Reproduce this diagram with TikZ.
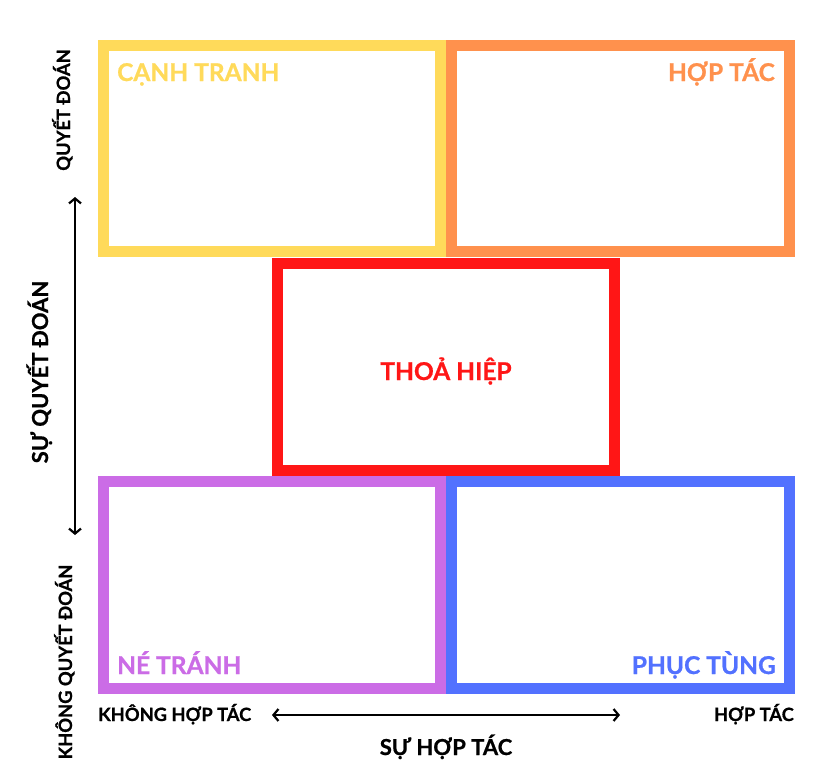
\documentclass[tikz,border=0pt]{standalone}
\usepackage{fontspec}
\setmainfont{Lato}[BoldFeatures={FakeBold=0.8}]
\usetikzlibrary{arrows.meta}
\definecolor{cyellow}{HTML}{FFDA5A}
\definecolor{corange}{HTML}{FF914D}
\definecolor{cred}{HTML}{FF1616}
\definecolor{cpurple}{HTML}{CB6CE6}
\definecolor{cblue}{HTML}{5271FF}
\tikzset{
  quad/.style={draw=#1, line width=11pt, minimum width=337pt, minimum height=206pt, inner sep=0pt, outer sep=0pt},
  qlabel/.style={text=#1, font=\fontsize{24.5}{28}\selectfont\bfseries, inner sep=0pt},
  axlabel/.style={font=\fontsize{18.3}{21}\selectfont\bfseries, inner sep=0pt},
  axtitle/.style={font=\fontsize{22}{26}\selectfont\bfseries, inner sep=0pt},
  axarrow/.style={line width=2.2pt, {Straight Barb[length=5pt,width=12pt]}-{Straight Barb[length=5pt,width=12pt]}}
}
\begin{document}
\begin{tikzpicture}[x=1pt,y=1pt]
\useasboundingbox[fill=white] (0,0) rectangle (833,-780);
% quadrant boxes
\node[quad=cyellow, minimum height=206pt] (comp) at (272,-148.5) {};
\node[quad=corange, minimum width=338pt, minimum height=206pt] (coll) at (620.5,-148.5) {};
\node[quad=cpurple, minimum height=207pt] (avoid) at (272,-585) {};
\node[quad=cblue, minimum width=338pt, minimum height=207pt] (accom) at (620.5,-585) {};
\node[quad=cred, minimum height=207pt] (compr) at (446,-367) {};
% quadrant labels
\node[qlabel=cyellow, anchor=base west] (lcomp) at (117,-81) {CẠNH TRANH};
\node[qlabel=corange, anchor=base east] (lcoll) at (775,-81) {HỢP TÁC};
\node[qlabel=cred, anchor=base] (lcompr) at (446,-380) {THOẢ HIỆP};
\node[qlabel=cpurple, anchor=base west] (lavoid) at (117,-674) {NÉ TRÁNH};
\node[qlabel=cblue, anchor=base east] (laccom) at (776,-674) {PHỤC TÙNG};
% horizontal axis
\node[axlabel, anchor=base west] (nocoop) at (98,-721) {KHÔNG HỢP TÁC};
\node[axlabel, anchor=base east] (coop) at (794,-721) {HỢP TÁC};
\node[axtitle, anchor=base] (coopaxis) at (446,-755) {SỰ HỢP TÁC};
\coordinate (hl) at (272,-715);
\coordinate (hr) at (620,-715);
\draw[axarrow] (hl) -- (hr);
% vertical axis
\node[axlabel, anchor=base, rotate=90] (assert) at (70,-110) {QUYẾT ĐOÁN};
\node[axlabel, anchor=base, rotate=90] (noassert) at (72,-662) {KHÔNG QUYẾT ĐOÁN};
\node[axtitle, anchor=base, rotate=90] (assertaxis) at (48,-372) {SỰ QUYẾT ĐOÁN};
\coordinate (vt) at (75,-197);
\coordinate (vb) at (75,-535);
\draw[axarrow] (vt) -- (vb);
\end{tikzpicture}
\end{document}
